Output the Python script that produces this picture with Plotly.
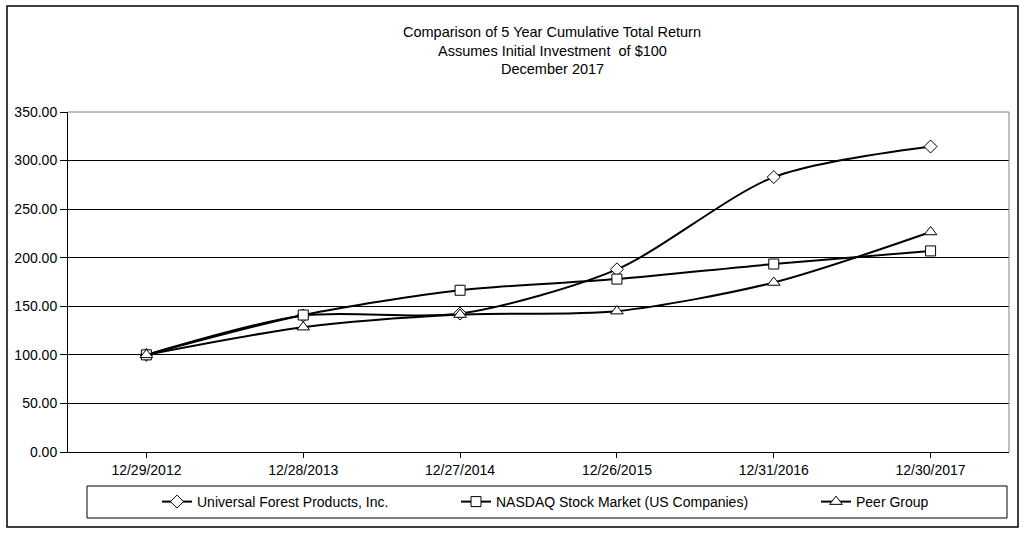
import plotly.graph_objects as go

dates = ["12/29/2012", "12/28/2013", "12/27/2014", "12/26/2015", "12/31/2016", "12/30/2017"]
ufp = [100.00, 140.5, 142.5, 188.0, 283.0, 314.5]
nasdaq = [100.00, 141.0, 166.5, 178.0, 193.5, 207.0]
peer = [100.00, 128.5, 141.5, 145.0, 174.5, 226.5]

names = ["Universal Forest Products, Inc.", "NASDAQ Stock Market (US Companies)", "Peer Group"]
symbols = ["diamond", "square", "triangle-up"]
sizes = [10, 10, 11]
series = [ufp, nasdaq, peer]
legends = ["legend", "legend2", "legend3"]

FONT = "Liberation Sans"
W, H = 1029, 535
L, R, T, B = 68, 20, 112, 83
pw = W - L - R
ph = H - T - B

def px(x):
    return (x - L) / pw

def py(y):
    return (H - B - y) / ph

fig = go.Figure()
for name, sym, sz, vals, lg in zip(names, symbols, sizes, series, legends):
    fig.add_trace(go.Scatter(
        x=dates, y=vals, name=name, mode="lines+markers",
        line=dict(color="black", width=2, shape="spline", smoothing=0.8),
        marker=dict(symbol=sym, size=sz, color="white", line=dict(color="black", width=1)),
        legend=lg,
    ))

leg_common = dict(orientation="h", yanchor="middle", y=py(502), xanchor="left",
                  bgcolor="rgba(0,0,0,0)", borderwidth=0,
                  font=dict(family=FONT, size=14, color="black"))
fig.update_layout(
    width=W, height=H,
    margin=dict(l=L, r=R, t=T, b=B),
    paper_bgcolor="white", plot_bgcolor="white",
    font=dict(family=FONT, size=14, color="black"),
    showlegend=True,
    legend=dict(x=px(157), **leg_common),
    legend2=dict(x=px(456), **leg_common),
    legend3=dict(x=px(816), **leg_common),
    xaxis=dict(
        type="category", range=[-0.5, 5.5],
        showline=True, linecolor="black", linewidth=1,
        ticks="outside", ticklen=5, tickcolor="black",
        showgrid=False, tickfont=dict(family=FONT, size=14),
    ),
    yaxis=dict(
        range=[0, 350], dtick=50, tickformat=".2f",
        showline=True, linecolor="black", linewidth=1,
        ticks="outside", ticklen=7, tickcolor="black",
        showgrid=True, gridcolor="black", gridwidth=1,
        zeroline=False, tickfont=dict(family=FONT, size=14),
    ),
)

# plot area border (top and right gray)
fig.add_shape(type="line", xref="paper", yref="paper", x0=0, x1=1, y0=1, y1=1,
              line=dict(color="#808080", width=1))
fig.add_shape(type="line", xref="paper", yref="paper", x0=1, x1=1, y0=0, y1=1,
              line=dict(color="#808080", width=1))
# legend box
fig.add_shape(type="rect", xref="paper", yref="paper",
              x0=px(87), x1=px(1007), y0=py(518), y1=py(486),
              line=dict(color="black", width=1), layer="below")
# outer chart border
fig.add_shape(type="rect", xref="paper", yref="paper",
              x0=px(7), x1=px(1018), y0=py(527), y1=py(6),
              line=dict(color="black", width=1.5), layer="below")

titles = ["Comparison of 5 Year Cumulative Total Return",
          "Assumes Initial Investment  of $100",
          "December 2017"]
for t, yy in zip(titles, [32, 51, 69]):
    fig.add_annotation(text=t, xref="paper", yref="paper", x=px(552), y=py(yy),
                       xanchor="center", yanchor="middle", showarrow=False,
                       font=dict(family=FONT, size=14.5, color="black"))

fig.write_html("out.html", config={"displayModeBar": False},
               post_script="document.body.style.margin='0';")
